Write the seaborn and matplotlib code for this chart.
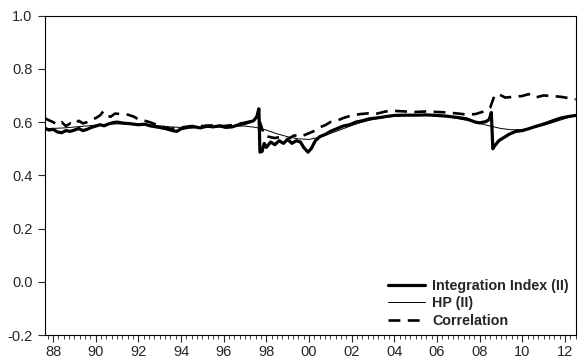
import numpy as np
import pandas as pd
import matplotlib
matplotlib.use("Agg")
import matplotlib.pyplot as plt
from matplotlib.ticker import FixedLocator
import seaborn as sns

# ---- data (decimal years) ----
ii_dates = [1987.6, 1987.8, 1988.0, 1988.2, 1988.4, 1988.6, 1988.8, 1989.0, 1989.2, 1989.4,
            1989.6, 1989.8, 1990.0, 1990.2, 1990.4, 1990.6, 1990.8, 1991.0, 1991.3, 1991.6,
            1992.0, 1992.3, 1992.6, 1993.0, 1993.3, 1993.6, 1993.8, 1994.0, 1994.3, 1994.6,
            1994.9, 1995.2, 1995.5, 1995.8, 1996.1, 1996.4, 1996.7, 1997.0, 1997.2, 1997.4,
            1997.55, 1997.65, 1997.70, 1997.8, 1997.9, 1998.0, 1998.2, 1998.4, 1998.6, 1998.8,
            1999.0, 1999.2, 1999.4, 1999.6, 1999.75, 1999.95, 2000.1, 2000.3, 2000.5, 2000.8,
            2001.0, 2001.3, 2001.6, 2001.9, 2002.2, 2002.5, 2002.8, 2003.1, 2003.4, 2003.7,
            2004.0, 2004.5, 2005.0, 2005.5, 2006.0, 2006.5, 2007.0, 2007.4, 2007.8, 2008.0,
            2008.3, 2008.45, 2008.55, 2008.62, 2008.7, 2008.9, 2009.1, 2009.4, 2009.7, 2010.0,
            2010.3, 2010.6, 2010.9, 2011.2, 2011.5, 2011.8, 2012.1, 2012.5]
ii_values = [0.578, 0.570, 0.573, 0.563, 0.560, 0.568, 0.565, 0.570, 0.576, 0.568,
             0.573, 0.580, 0.585, 0.590, 0.586, 0.593, 0.598, 0.600, 0.596, 0.594,
             0.590, 0.592, 0.585, 0.580, 0.575, 0.568, 0.565, 0.575, 0.580, 0.583,
             0.578, 0.585, 0.582, 0.586, 0.580, 0.582, 0.590, 0.595, 0.600, 0.605,
             0.620, 0.650, 0.487, 0.490, 0.520, 0.505, 0.525, 0.515, 0.530, 0.520,
             0.535, 0.520, 0.530, 0.525, 0.505, 0.487, 0.500, 0.530, 0.545, 0.555,
             0.565, 0.575, 0.585, 0.590, 0.600, 0.605, 0.612, 0.615, 0.618, 0.622,
             0.625, 0.626, 0.626, 0.627, 0.625, 0.622, 0.617, 0.612, 0.600, 0.597,
             0.602, 0.610, 0.636, 0.500, 0.510, 0.530, 0.540, 0.555, 0.565, 0.568,
             0.575, 0.583, 0.590, 0.598, 0.607, 0.615, 0.620, 0.625]

hp_dates = [1987.6, 1988.5, 1989.5, 1990.5, 1991.5, 1992.5, 1993.5, 1994.5, 1995.5, 1996.5,
            1997.0, 1997.5, 1998.0, 1998.5, 1999.0, 1999.5, 2000.0, 2000.5, 2001.0, 2001.5,
            2002.0, 2002.5, 2003.0, 2003.5, 2004.0, 2004.5, 2005.0, 2005.5, 2006.0, 2006.5,
            2007.0, 2007.5, 2008.0, 2008.5, 2009.0, 2009.5, 2010.0, 2010.5, 2011.0, 2011.5,
            2012.0, 2012.5]
hp_values = [0.575, 0.578, 0.585, 0.592, 0.594, 0.590, 0.582, 0.578, 0.580, 0.585,
             0.585, 0.580, 0.570, 0.556, 0.545, 0.537, 0.535, 0.543, 0.557, 0.572,
             0.587, 0.600, 0.610, 0.617, 0.622, 0.625, 0.627, 0.627, 0.625, 0.620,
             0.613, 0.605, 0.595, 0.585, 0.576, 0.571, 0.572, 0.578, 0.588, 0.600,
             0.613, 0.625]

corr_dates = [1987.6, 1987.8, 1988.0, 1988.2, 1988.4, 1988.6, 1988.8, 1989.0, 1989.2, 1989.4,
              1989.6, 1989.8, 1990.0, 1990.2, 1990.35, 1990.5, 1990.7, 1990.9, 1991.2, 1991.5,
              1991.8, 1992.0, 1992.3, 1992.6, 1993.0, 1993.5, 1994.0, 1994.5, 1995.0, 1995.5,
              1996.0, 1996.5, 1997.0, 1997.4, 1997.7, 1997.9, 1998.1, 1998.4, 1998.7, 1999.0,
              1999.3, 1999.6, 1999.9, 2000.2, 2000.5, 2000.8, 2001.0, 2001.3, 2001.6, 2002.0,
              2002.4, 2002.8, 2003.2, 2003.6, 2004.0, 2004.5, 2005.0, 2005.5, 2006.0, 2006.5,
              2007.0, 2007.4, 2007.8, 2008.2, 2008.5, 2008.7, 2008.9, 2009.2, 2009.6, 2010.0,
              2010.3, 2010.6, 2011.0, 2011.4, 2011.8, 2012.2, 2012.5]
corr_values = [0.615, 0.607, 0.600, 0.590, 0.600, 0.585, 0.595, 0.590, 0.605, 0.595,
               0.600, 0.610, 0.615, 0.625, 0.640, 0.625, 0.620, 0.632, 0.630, 0.628,
               0.620, 0.610, 0.605, 0.598, 0.585, 0.575, 0.580, 0.585, 0.585, 0.588,
               0.585, 0.590, 0.598, 0.605, 0.600, 0.550, 0.545, 0.540, 0.545, 0.535,
               0.550, 0.545, 0.555, 0.565, 0.580, 0.590, 0.600, 0.605, 0.615, 0.625,
               0.630, 0.633, 0.632, 0.640, 0.642, 0.640, 0.638, 0.640, 0.638, 0.636,
               0.632, 0.628, 0.630, 0.640, 0.655, 0.700, 0.705, 0.692, 0.695, 0.698,
               0.705, 0.692, 0.700, 0.698, 0.695, 0.690, 0.685]

series_names = ["Integration Index (II)", "HP (II)", "Correlation"]
y_ticks = [-0.2, 0.0, 0.2, 0.4, 0.6, 0.8, 1.0]
x_label_years = list(range(1988, 2013, 2))
x_labels = [f"{y % 100:02d}" for y in x_label_years]

# ---- plotting ----
sns.set_style("ticks")
plt.rcParams['font.family'] = ['Liberation Sans', 'DejaVu Sans']

fig = plt.figure(figsize=(5.79, 3.63), dpi=100)
ax = fig.add_axes([0.0777, 0.077, 0.9171, 0.880])

df_ii = pd.DataFrame({"date": ii_dates, "value": ii_values})
df_hp = pd.DataFrame({"date": hp_dates, "value": hp_values})
df_co = pd.DataFrame({"date": corr_dates, "value": corr_values})

sns.lineplot(data=df_co, x="date", y="value", ax=ax, color="black", linewidth=1.9,
             label=series_names[2], estimator=None, sort=False)
ax.lines[-1].set_dashes([4.5, 2.8])
sns.lineplot(data=df_hp, x="date", y="value", ax=ax, color="black", linewidth=0.7,
             label=series_names[1], estimator=None, sort=False)
sns.lineplot(data=df_ii, x="date", y="value", ax=ax, color="black", linewidth=2.3,
             label=series_names[0], estimator=None, sort=False)

ax.set_xlim(1987.62, 2012.52)
ax.set_ylim(-0.2, 1.0)
ax.set_xlabel("")
ax.set_ylabel("")

ax.set_yticks(y_ticks)
ax.set_yticklabels([f"{v:.1f}" for v in y_ticks], fontsize=10.5)
ax.set_xticks(x_label_years)
ax.set_xticklabels(x_labels, fontsize=10.5)
ax.xaxis.set_minor_locator(FixedLocator([y + q * 0.25 for y in range(1987, 2013) for q in range(4)
                                         if 1987.62 <= y + q * 0.25 <= 2012.52]))
ax.tick_params(axis="x", which="major", direction="out", length=5, width=0.8, pad=2)
ax.tick_params(axis="x", which="minor", direction="out", length=3, width=0.6)
ax.tick_params(axis="y", which="major", direction="out", length=5, width=0.8, pad=4)
for s in ax.spines.values():
    s.set_linewidth(0.8)
    s.set_color("black")

handles, labels = ax.get_legend_handles_labels()
order = [2, 1, 0]
leg = ax.legend([handles[i] for i in order], [labels[i] for i in order],
                loc="lower right", frameon=False,
                handlelength=2.6, handletextpad=0.5, labelspacing=0.25,
                borderaxespad=0.3, borderpad=0.2,
                prop={"weight": "bold", "size": 10.3})

fig.savefig("out.png", dpi=100)
